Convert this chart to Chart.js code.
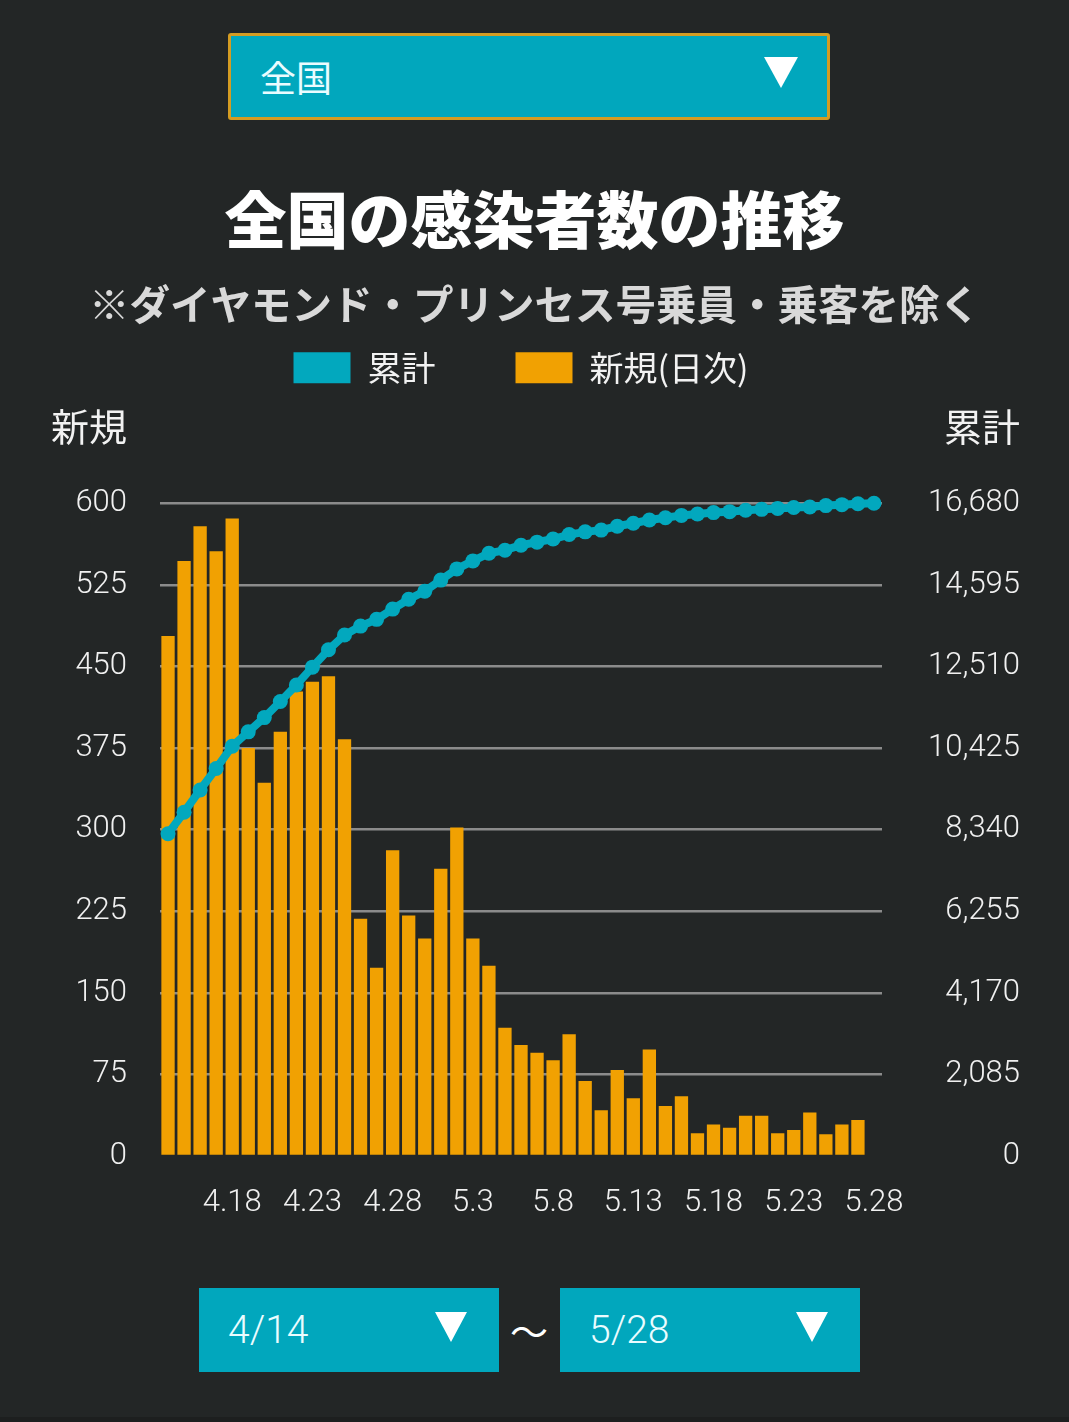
<!DOCTYPE html>
<html lang="ja">
<head>
<meta charset="utf-8">
<title>全国の感染者数の推移</title>
<script src="https://cdn.jsdelivr.net/npm/chart.js@4.4.1/dist/chart.umd.min.js"></script>
<style>
  html, body { margin: 0; padding: 0; background: #232626; }
  body { width: 1069px; height: 1422px; position: relative; overflow: hidden; font-family: "Noto Sans CJK JP", sans-serif; }
  .select { position: absolute; box-sizing: border-box; background: #01a7bd; color: #eafcff; }
  .select .arrow { position: absolute; width: 0; height: 0; border-left: 17px solid transparent; border-right: 17px solid transparent; border-top: 31px solid #ffffff; }
  #area { left: 228px; top: 33px; width: 602px; height: 87px; border: 3px solid #d49c22; border-radius: 3px; }
  #area span { position: absolute; left: 29px; top: 0; line-height: 81px; font-size: 36px; }
  #area .arrow { left: 533px; top: 21px; }
  .date { top: 1288px; width: 300px; height: 84px; }
  .date span { position: absolute; left: 29px; top: 0; line-height: 84px; font-family: Roboto, sans-serif; font-weight: 300; font-size: 39px; }
  .date .arrow { left: 236px; top: 24px; border-left-width: 16px; border-right-width: 16px; border-top-width: 30px; }
  #from { left: 199px; }
  #to { left: 560px; }
  #tilde { position: absolute; left: 505px; top: 1288px; width: 48px; height: 84px; line-height: 84px; text-align: center; color: #ffffff; font-size: 38px; }
  #chartBox { position: absolute; left: 0; top: 150px; width: 1069px; height: 1090px; }
  #foot { position: absolute; left: 0; top: 1417px; width: 1069px; height: 5px; background: #1d1f1f; }
</style>
</head>
<body>
<div class="select" id="area"><span>全国</span><div class="arrow"></div></div>

<div id="chartBox"><canvas id="trendChart"></canvas></div>

<div class="select date" id="from"><span>4/14</span><div class="arrow"></div></div>
<div id="tilde">〜</div>
<div class="select date" id="to"><span>5/28</span><div class="arrow"></div></div>
<div id="foot"></div>

<script>
const dates = [
    "4.14", "4.15", "4.16", "4.17", "4.18", "4.19", "4.20", "4.21", "4.22", "4.23",
    "4.24", "4.25", "4.26", "4.27", "4.28", "4.29", "4.30", "5.1", "5.2", "5.3",
    "5.4", "5.5", "5.6", "5.7", "5.8", "5.9", "5.10", "5.11", "5.12", "5.13",
    "5.14", "5.15", "5.16", "5.17", "5.18", "5.19", "5.20", "5.21", "5.22", "5.23",
    "5.24", "5.25", "5.26", "5.27", "5.28",
];

// 新規(日次) - no bar yet for 5/28
const newCases = [
    478, 547, 579, 556, 586, 375, 343, 390, 427, 436,
    441, 383, 218, 173, 281, 221, 200, 264, 302, 200,
    175, 118, 102, 95, 88, 112, 69, 42, 79, 53,
    98, 46, 55, 21, 29, 26, 37, 37, 21, 24,
    40, 20, 29, 33, null,
];

// 累計
const totalCases = [
    8237, 8785, 9355, 9903, 10473, 10839, 11204, 11614, 12036, 12493,
    12938, 13314, 13542, 13714, 13976, 14227, 14432, 14718, 15003, 15208,
    15402, 15482, 15608, 15687, 15767, 15881, 15950, 15995, 16095, 16169,
    16252, 16311, 16371, 16407, 16443, 16466, 16502, 16526, 16550, 16574,
    16586, 16621, 16645, 16669, 16680,
];

const leftMax = 600;
const leftStep = 75;
const rightMax = 16680;
const rightStep = 2085;

const TEAL = "#02a8be";
const ORANGE = "#f1a102";
const jpFont = "'Noto Sans CJK JP'";
const tickFont = { family: "Roboto", size: 31, weight: 300 };

// row between legend and plot for the 新規 / 累計 axis captions
const axisTitleRow = {
    id: "axisTitleRow",
    beforeInit(chart) {
        const row = {
            position: "top",
            weight: 100,
            fullSize: true,
            options: {},
            isHorizontal() { return true; },
            update(maxWidth) {
                this.width = maxWidth;
                this.height = 108.5;
            },
            draw() {
                const c = chart.ctx;
                const area = chart.chartArea;
                c.save();
                c.fillStyle = "#f2f2f2";
                c.font = "38px " + jpFont;
                c.textBaseline = "middle";
                c.textAlign = "right";
                c.fillText("新規", area.left - 33, this.top + 32);
                c.fillText("累計", area.right + 138, this.top + 32);
                c.restore();
            },
        };
        Chart.layouts.addBox(chart, row);
    },
};

const ctx = document.getElementById("trendChart");

new Chart(ctx, {
    type: "bar",
    data: {
        labels: dates,
        datasets: [
            {
                type: "line",
                label: "累計",
                data: totalCases,
                yAxisID: "y1",
                borderColor: TEAL,
                backgroundColor: TEAL,
                borderWidth: 8,
                pointRadius: 7.5,
                pointHoverRadius: 7.5,
                pointBorderWidth: 0,
                pointBackgroundColor: TEAL,
                tension: 0,
                clip: false,
                order: 1,
            },
            {
                type: "bar",
                label: "新規(日次)",
                data: newCases,
                yAxisID: "y",
                backgroundColor: ORANGE,
                barPercentage: 0.83,
                categoryPercentage: 1,
                order: 2,
            },
        ],
    },
    options: {
        responsive: true,
        maintainAspectRatio: false,
        animation: false,
        locale: "en-US",
        events: [],
        layout: { padding: { left: 49, right: 49, top: 0, bottom: 0 } },
        plugins: {
            tooltip: { enabled: false },
            title: {
                display: true,
                text: "全国の感染者数の推移",
                color: "#ffffff",
                font: { family: jpFont, size: 62, weight: 900, lineHeight: 1.2 },
                padding: { top: 33, bottom: 0 },
            },
            subtitle: {
                display: true,
                text: "※ダイヤモンド・プリンセス号乗員・乗客を除く",
                color: "#d9d9d9",
                font: { family: jpFont, size: 40.5, weight: "bold", lineHeight: 1.2 },
                padding: { top: 23.3, bottom: -58.5 },
            },
            legend: {
                position: "top",
                fullSize: false,
                labels: {
                    font: { family: jpFont, size: 34 },
                    color: "#f2f2f2",
                    boxWidth: 57,
                    boxHeight: 31,
                    padding: 80,
                    generateLabels: (chart) =>
                        chart.data.datasets.map((ds, i) => ({
                            text: ds.label,
                            fillStyle: ds.backgroundColor,
                            strokeStyle: ds.backgroundColor,
                            lineWidth: 0,
                            fontColor: "#f2f2f2",
                            hidden: false,
                            datasetIndex: i,
                        })),
                },
            },
        },
        scales: {
            x: {
                offset: true,
                grid: { display: false, drawTicks: false },
                border: { display: false },
                ticks: {
                    color: "#f0f0f0",
                    font: tickFont,
                    autoSkip: false,
                    maxRotation: 0,
                    padding: 29,
                    callback: (value, index) => (index % 5 === 4 ? dates[index] : ""),
                },
                afterFit: (scale) => { scale.height = 84; },
            },
            y: {
                position: "left",
                min: 0,
                max: leftMax,
                grid: {
                    color: (c) => (c.tick.value === 0 ? "rgba(0,0,0,0)" : "#8b8b8b"),
                    lineWidth: 2.5,
                    drawTicks: false,
                },
                border: { display: false },
                ticks: { stepSize: leftStep, color: "#f0f0f0", font: tickFont, padding: 33 },
                afterFit: (scale) => { scale.width = 111; },
            },
            y1: {
                position: "right",
                min: 0,
                max: rightMax,
                grid: { display: false, drawTicks: false },
                border: { display: false },
                ticks: { stepSize: rightStep, color: "#f0f0f0", font: tickFont, padding: 45, crossAlign: "far" },
                afterFit: (scale) => { scale.width = 138; },
            },
        },
    },
    plugins: [axisTitleRow],
});
</script>
</body>
</html>
